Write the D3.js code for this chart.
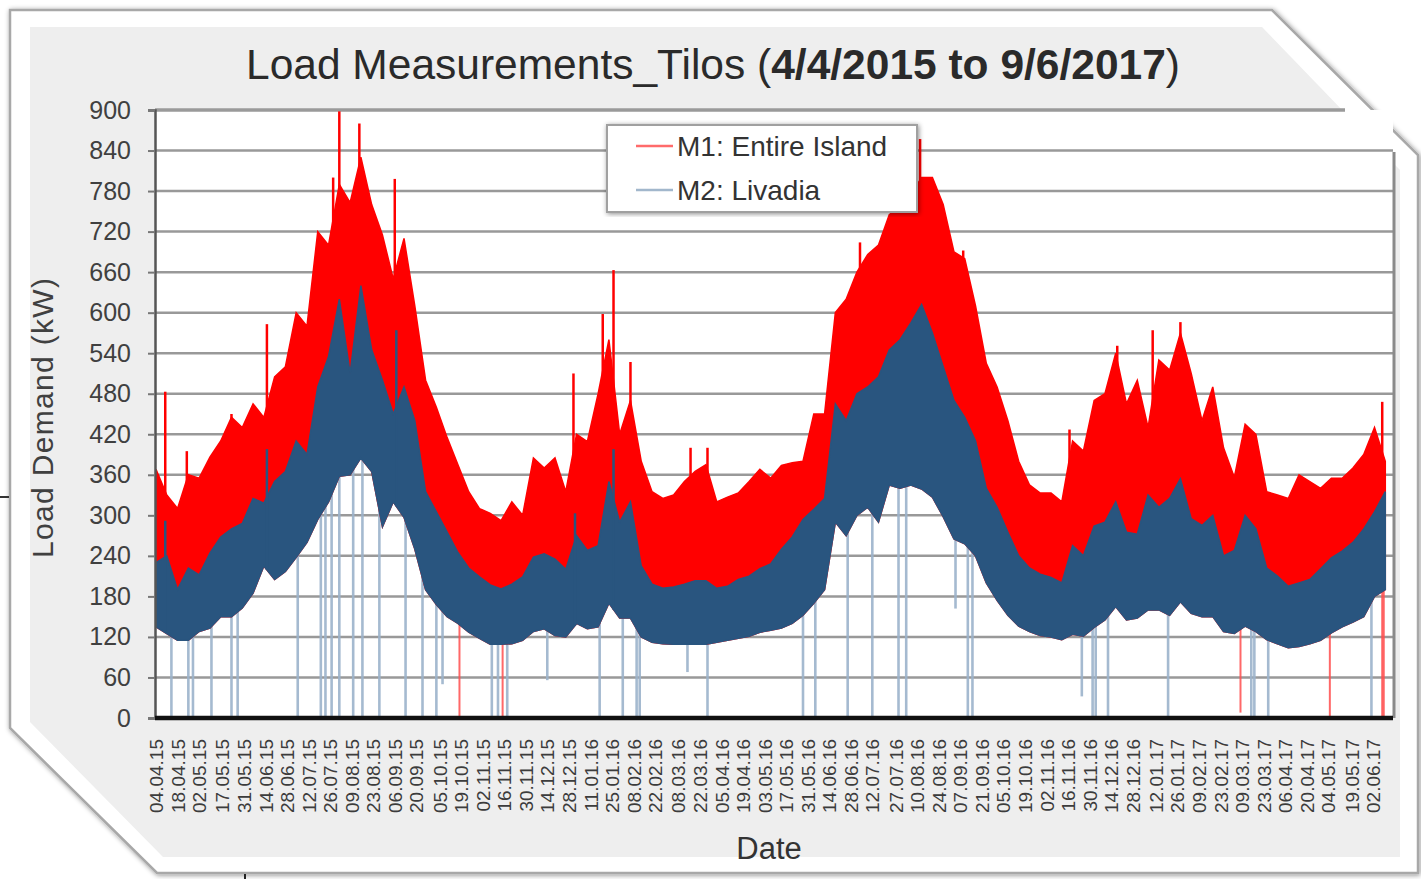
<!DOCTYPE html>
<html><head><meta charset="utf-8">
<script src="https://cdn.jsdelivr.net/npm/d3@7"></script>
<style>
body{margin:0;background:#fff;}
svg{display:block;font-family:"Liberation Sans",Arial,sans-serif;}
</style>
</head><body>
<svg id="c" width="1421" height="879"></svg>
<script>
// ---------------- DATA ----------------
const startDate = "2015-04-04";           // first weekly sample
const endDomain = "2017-06-15";
const xTickLabels = ["04.04.15","18.04.15","02.05.15","17.05.15","31.05.15","14.06.15","28.06.15","12.07.15","26.07.15","09.08.15",
 "23.08.15","06.09.15","20.09.15","05.10.15","19.10.15","02.11.15","16.11.15","30.11.15","14.12.15","28.12.15",
 "11.01.16","25.01.16","08.02.16","22.02.16","08.03.16","22.03.16","05.04.16","19.04.16","03.05.16","17.05.16",
 "31.05.16","14.06.16","28.06.16","12.07.16","27.07.16","10.08.16","24.08.16","07.09.16","21.09.16","05.10.16",
 "19.10.16","02.11.16","16.11.16","30.11.16","14.12.16","28.12.16","12.01.17","26.01.17","09.02.17","23.02.17",
 "09.03.17","23.03.17","06.04.17","20.04.17","04.05.17","19.05.17","02.06.17"];
const yTicks = [0,60,120,180,240,300,360,420,480,540,600,660,720,780,840,900];

// weekly envelope of M1 (Entire Island) – upper edge, kW
const m1High = [368,330,310,360,355,386,410,445,430,465,
 445,505,520,600,580,720,700,790,763,830,
 760,715,650,710,610,500,460,415,375,335,
 310,303,292,320,300,385,370,385,335,420,
 409,480,560,420,470,380,335,325,330,350,
 365,375,320,327,333,350,368,355,374,378,
 380,450,450,600,620,660,686,700,745,757,
 775,800,800,760,690,680,610,525,490,440,
 380,345,333,333,320,410,395,470,480,540,
 465,500,430,530,515,570,510,440,490,400,
 356,435,420,335,330,325,360,350,340,355,
 355,370,390,430,380];
// weekly envelope of M2 (Livadia) – upper and lower edges, kW
const m2High = [230,240,190,222,212,244,268,280,288,325,
 318,350,365,410,390,490,535,620,510,640,
 545,500,450,490,440,335,305,275,245,222,
 209,197,191,198,209,238,243,235,220,270,
 248,255,350,290,320,225,198,192,194,198,
 203,203,192,195,205,210,221,228,250,268,
 294,309,325,465,440,480,490,505,545,560,
 585,612,570,520,470,445,410,340,312,275,
 240,222,213,208,200,255,240,284,290,320,
 275,272,330,312,325,354,295,285,300,240,
 248,300,280,222,210,195,200,205,221,237,
 247,260,280,305,335];
const m2Low = [135,125,115,115,128,133,150,150,163,185,
 225,205,217,238,260,294,320,358,360,385,
 365,283,320,297,250,190,168,150,140,127,
 118,109,109,110,115,128,132,122,120,140,
 132,135,170,148,148,120,112,110,109,109,
 109,109,112,115,118,121,127,130,133,140,
 152,170,190,290,270,300,312,290,345,340,
 345,339,327,298,265,258,240,200,174,152,
 136,128,122,120,116,124,121,134,145,165,
 145,148,160,160,152,172,155,150,150,128,
 125,136,128,116,110,104,106,110,115,126,
 135,142,150,180,190];

// short peaks
const m1PeakDates = ["2015-04-10","2015-04-24","2015-05-23","2015-06-15","2015-07-28","2015-08-01","2015-08-14","2015-09-06",
 "2015-12-31","2016-01-19","2016-01-26","2016-02-06","2016-03-16","2016-03-27","2016-07-04","2016-08-12","2016-09-09",
 "2016-11-17","2016-12-18","2017-01-10","2017-01-28","2017-06-08"];
const m1PeakValues = [483,395,450,583,800,898,880,798,510,598,663,527,400,400,704,857,692,427,551,574,586,468];
const m2PeakDates = ["2015-04-10","2015-06-15","2015-09-07","2016-01-01","2016-01-26"];
const m2PeakValues = [292,398,574,303,398];

// drop-outs (minimum reached)
const m2DropDates = ["2015-04-14","2015-04-25","2015-04-28","2015-05-10","2015-05-23","2015-05-27","2015-07-05","2015-07-20",
 "2015-07-23","2015-07-27","2015-08-01","2015-08-10","2015-08-16","2015-08-27","2015-09-13","2015-09-24","2015-10-03",
 "2015-10-07","2015-11-08","2015-11-12","2015-11-18","2015-12-14","2016-01-17","2016-02-01","2016-02-10","2016-02-12",
 "2016-03-14","2016-03-27","2016-05-28","2016-06-05","2016-06-26","2016-07-12","2016-07-29","2016-08-03","2016-09-04",
 "2016-09-12","2016-09-15","2016-11-25","2016-12-02","2016-12-04","2016-12-12","2017-01-20","2017-03-15","2017-03-17",
 "2017-03-26","2017-06-01"];
const m2DropValues = [0,0,0,0,0,0,0,0,0,0,0,0,0,0,0,0,0,50,0,0,0,56,0,0,0,0,68,0,0,0,0,0,0,0,162,0,0,32,0,0,0,0,0,0,0,0];
const m1DropDates = ["2015-10-18","2015-11-15","2017-03-08","2017-05-05","2017-06-08","2017-06-09"];
const m1DropValues = [0,0,8,0,0,0];

const seriesNames = ["M1: Entire Island","M2: Livadia"];

// ---------------- CHART ----------------
const parse = d3.timeParse("%Y-%m-%d");
const parseTick = d3.timeParse("%d.%m.%y");
const svg = d3.select("#c");
const L = 155, R = 1393, T = 110, B = 718;
const x = d3.scaleTime().domain([parse(startDate), parse(endDomain)]).range([156, R]);
const y = d3.scaleLinear().domain([0, 900]).range([B, T]);
const weeks = m1High.map((_, i) => d3.timeDay.offset(parse(startDate), 7 * i));
const RED = "#ff0000", BLUE = "#29557f", DROPBLUE = "#9bb3cb";

const defs = svg.append("defs");
const f = defs.append("filter").attr("id","sh").attr("x","-5%").attr("y","-5%").attr("width","110%").attr("height","110%");
f.append("feDropShadow").attr("dx",1).attr("dy",1).attr("stdDeviation",2.5).attr("flood-color","#000").attr("flood-opacity",0.45);

// frame
svg.append("path").attr("d","M10,10 L1272,10 L1418,155 L1418,873 L157,873 L10,728 Z")
  .attr("fill","#fff").attr("stroke","#a8a8a8").attr("stroke-width",2.5).attr("filter","url(#sh)");
svg.append("path").attr("d","M30,27 L1262,27 L1400,170 L1400,857 L163,857 L30,722 Z").attr("fill","#eeeeee");
svg.append("line").attr("x1",0).attr("x2",9).attr("y1",497).attr("y2",497).attr("stroke","#333").attr("stroke-width",2);
svg.append("line").attr("x1",245).attr("x2",245).attr("y1",874).attr("y2",879).attr("stroke","#222").attr("stroke-width",2);

// plot area
svg.append("rect").attr("x",L).attr("y",T).attr("width",R-L).attr("height",B-T).attr("fill","#fff");
// gridlines
svg.append("g").selectAll("line").data(yTicks.filter(v => v > 0)).join("line")
  .attr("x1", L).attr("x2", v => v === 900 ? 1345 : R)
  .attr("y1", v => y(v)).attr("y2", v => y(v))
  .attr("stroke", v => v === 900 ? "#9a9a9a" : "#999")
  .attr("stroke-width", v => v === 900 ? 3.5 : 2.5);

// helper for geometry of drop/peak lines
const weekTimes = weeks.map(d => d.getTime());
function interp(arr, date) {
  const t = date.getTime();
  const i = d3.bisectLeft(weekTimes, t);
  if (i <= 0) return arr[0];
  if (i >= weeks.length) return arr[arr.length - 1];
  const a = weekTimes[i-1], b = weekTimes[i];
  const r = (t - a) / (b - a);
  return arr[i-1] + (arr[i] - arr[i-1]) * r;
}

// M2 drop-outs (behind bands)
svg.append("g").selectAll("line").data(m2DropDates.map((d,i)=>({d:parse(d), v:m2DropValues[i]}))).join("line")
  .attr("x1", d => x(d.d)).attr("x2", d => x(d.d))
  .attr("y1", d => y(d.v)).attr("y2", d => y(interp(m2High, d.d)))
  .attr("stroke", DROPBLUE).attr("stroke-width", 2.6).attr("stroke-opacity", 0.9);
// M1 drop-outs
svg.append("g").selectAll("line").data(m1DropDates.map((d,i)=>({d:parse(d), v:m1DropValues[i]}))).join("line")
  .attr("x1", d => x(d.d)).attr("x2", d => x(d.d))
  .attr("y1", d => y(d.v)).attr("y2", d => y(interp(m2High, d.d)))
  .attr("stroke", "#ff4d4d").attr("stroke-width", 2).attr("stroke-opacity", 0.85);

// M1 band
const m1Area = d3.area().x((d,i) => x(weeks[i])).y0((d,i) => y(m2Low[i])).y1(d => y(d));
svg.append("path").datum(m1High).attr("d", m1Area).attr("fill", RED).attr("stroke", RED).attr("stroke-width", 1.5);
svg.append("g").selectAll("line").data(m1PeakDates.map((d,i)=>({d:parse(d), v:m1PeakValues[i]}))).join("line")
  .attr("x1", d => x(d.d)).attr("x2", d => x(d.d))
  .attr("y1", d => y(d.v)).attr("y2", d => y(interp(m2High, d.d)))
  .attr("stroke", RED).attr("stroke-width", 2.5);

// M2 band
const m2Area = d3.area().x((d,i) => x(weeks[i])).y0((d,i) => y(m2Low[i])).y1(d => y(d));
svg.append("path").datum(m2High).attr("d", m2Area).attr("fill", BLUE).attr("stroke", BLUE).attr("stroke-width", 1.5);
svg.append("g").selectAll("line").data(m2PeakDates.map((d,i)=>({d:parse(d), v:m2PeakValues[i]}))).join("line")
  .attr("x1", d => x(d.d)).attr("x2", d => x(d.d))
  .attr("y1", d => y(d.v)).attr("y2", d => y(interp(m2Low, d.d)))
  .attr("stroke", BLUE).attr("stroke-width", 2.5);

// right border of plot
svg.append("line").attr("x1", R+1).attr("x2", R+1).attr("y1", 152).attr("y2", B).attr("stroke","#8a8a8a").attr("stroke-width",3);

// y axis
const yAxis = d3.axisLeft(y).tickValues(yTicks).tickSize(7).tickPadding(17).tickFormat(d3.format("d"));
const gy = svg.append("g").attr("transform", `translate(${L},0)`).call(yAxis);
gy.select(".domain").attr("stroke","#555").attr("stroke-width",2.5);
gy.selectAll(".tick line").attr("stroke","#777").attr("stroke-width",2);
gy.selectAll(".tick text").attr("font-size",25).attr("fill","#404040")
  .attr("font-family",'"Liberation Sans",Arial,sans-serif');

// x axis
const tickDates = xTickLabels.map(parseTick);
const xAxis = d3.axisBottom(x).tickValues(tickDates).tickSize(0)
  .tickFormat((d,i) => xTickLabels[i]);
const gx = svg.append("g").attr("transform", `translate(0,${B})`).call(xAxis);
gx.select(".domain").remove();
gx.selectAll(".tick text").attr("transform","rotate(-90)").attr("text-anchor","end")
  .attr("x",-21).attr("y",0).attr("dy","0.35em").attr("font-size",19).attr("fill","#3c3c3c")
  .attr("font-family",'"Liberation Sans",Arial,sans-serif');
svg.append("line").attr("x1",L).attr("x2",R).attr("y1",B).attr("y2",B).attr("stroke","#111").attr("stroke-width",4.5);

// titles
const title = svg.append("text").attr("x",713).attr("y",79).attr("text-anchor","middle")
  .attr("font-size",42.5).attr("fill","#2a2a2a");
title.append("tspan").text("Load Measurements_Tilos (");
title.append("tspan").attr("font-weight","bold").text("4/4/2015 to 9/6/2017");
title.append("tspan").text(")");
svg.append("text").attr("transform","translate(53,418) rotate(-90)").attr("text-anchor","middle")
  .attr("font-size",30).attr("fill","#404040").attr("textLength",280).attr("lengthAdjust","spacing")
  .text("Load Demand (kW)");
svg.append("text").attr("x",769).attr("y",859).attr("text-anchor","middle")
  .attr("font-size",31).attr("fill","#333").text("Date");

// legend
const lg = svg.append("g");
lg.append("rect").attr("x",607).attr("y",125).attr("width",310).attr("height",87)
  .attr("fill","#fff").attr("stroke","#a0a0a0").attr("stroke-width",2).attr("filter","url(#sh)");
const legColors = ["#ff6b6b", "#a2b7cc"];
seriesNames.forEach((n,i) => {
  const yy = 146 + i*44;
  lg.append("line").attr("x1",636).attr("x2",673).attr("y1",yy).attr("y2",yy)
    .attr("stroke",legColors[i]).attr("stroke-width",2.5);
  lg.append("text").attr("x",677).attr("y",yy).attr("dy","0.35em").attr("font-size",28)
    .attr("fill","#333").text(n);
});
</script>
</body></html>
